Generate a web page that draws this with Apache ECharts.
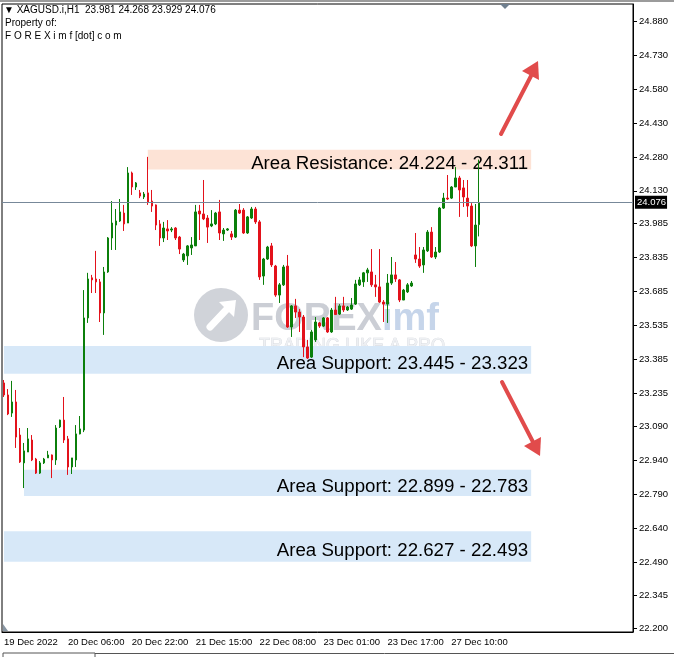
<!DOCTYPE html>
<html><head><meta charset="utf-8">
<script src="https://cdn.jsdelivr.net/npm/echarts@6/dist/echarts.min.js"></script>
<style>html,body{margin:0;padding:0;background:#fff}#c{width:674px;height:657px}</style>
</head><body><div id="c"></div>
<script>
// ---- data (XAGUSD.i, H1) ----
const openP = [23.282,23.229,23.149,23.198,23.052,22.929,22.977,23.030,22.946,22.884,
 22.929,22.951,22.964,22.942,23.088,23.118,23.035,22.911,22.942,23.057,
 23.074,23.569,23.746,23.741,23.728,23.591,23.772,23.922,23.979,23.997,
 24.032,23.988,24.209,24.147,24.121,24.103,24.121,24.085,24.068,23.984,
 23.922,23.962,23.957,23.966,23.926,23.825,23.843,23.878,23.887,24.041,
 24.028,24.010,23.975,23.984,24.037,23.940,23.957,23.940,23.926,24.045,
 24.045,23.944,24.010,24.050,23.993,23.754,23.829,23.887,23.798,23.670,
 23.715,23.798,23.529,23.622,23.595,23.573,23.441,23.396,23.472,23.547,
 23.533,23.569,23.507,23.604,23.586,23.622,23.604,23.608,23.630,23.715,
 23.728,23.768,23.772,23.715,23.706,23.639,23.630,23.723,23.759,23.737,
 23.648,23.684,23.710,23.847,23.829,23.803,23.865,23.948,23.838,23.860,
 24.054,24.098,24.098,24.147,24.187,24.143,24.098,24.063,23.887,23.981];
const highP = [23.295,23.255,23.291,23.251,23.083,23.017,23.083,23.052,22.951,22.937,
 22.951,22.982,22.966,23.096,23.120,23.220,23.048,22.951,23.096,23.136,
 23.692,23.768,23.759,23.865,23.741,23.794,23.926,24.085,24.050,24.094,
 24.068,24.235,24.215,24.169,24.134,24.125,24.280,24.134,24.070,24.001,
 23.993,24.001,23.970,23.970,23.931,23.856,23.891,23.926,24.068,24.068,
 24.178,24.023,24.045,24.037,24.090,23.966,23.966,23.953,24.050,24.072,
 24.054,24.019,24.059,24.059,24.001,23.834,23.887,23.900,23.803,23.723,
 23.803,23.847,23.626,23.653,23.608,23.582,23.472,23.516,23.573,23.551,
 23.573,23.573,23.613,23.662,23.630,23.662,23.622,23.657,23.737,23.750,
 23.772,23.790,23.873,23.759,23.873,23.648,23.763,23.838,23.816,23.741,
 23.697,23.723,23.732,23.944,23.882,23.882,23.957,23.970,23.882,24.059,
 24.121,24.200,24.151,24.235,24.196,24.178,24.178,24.076,24.072,24.268];
const lowP = [23.220,23.140,23.132,22.995,22.929,22.818,22.977,22.937,22.880,22.880,
 22.924,22.951,22.862,22.920,23.083,23.017,22.876,22.880,22.911,23.055,
 23.065,23.547,23.679,23.679,23.551,23.494,23.768,23.869,23.869,23.993,
 23.953,23.988,24.112,24.134,24.098,24.094,24.068,24.037,23.957,23.887,
 23.904,23.913,23.948,23.913,23.851,23.816,23.803,23.847,23.887,23.913,
 24.001,23.900,23.970,23.979,23.913,23.909,23.953,23.913,23.922,24.028,
 23.940,23.940,24.006,23.984,23.737,23.715,23.825,23.794,23.662,23.635,
 23.710,23.525,23.485,23.569,23.507,23.396,23.388,23.392,23.463,23.525,
 23.529,23.503,23.503,23.582,23.582,23.595,23.600,23.604,23.626,23.710,
 23.706,23.728,23.706,23.662,23.635,23.551,23.547,23.715,23.728,23.639,
 23.648,23.679,23.706,23.812,23.790,23.768,23.860,23.834,23.829,23.856,
 24.050,24.090,24.094,24.147,24.015,24.059,24.015,23.882,23.794,23.929];
const closeP = [23.229,23.145,23.198,23.043,22.933,22.982,23.035,22.942,22.884,22.929,
 22.946,22.964,22.942,23.083,23.118,23.030,22.911,22.951,23.057,23.079,
 23.569,23.741,23.737,23.728,23.591,23.772,23.922,23.988,23.997,24.037,
 23.984,24.209,24.147,24.165,24.107,24.116,24.081,24.063,23.979,23.922,
 23.966,23.953,23.962,23.922,23.873,23.851,23.887,23.891,24.037,24.028,
 24.006,23.970,23.984,24.032,23.944,23.957,23.962,23.926,24.045,24.032,
 23.944,24.015,24.050,23.993,23.750,23.829,23.882,23.803,23.670,23.715,
 23.794,23.529,23.622,23.595,23.573,23.441,23.392,23.507,23.551,23.533,
 23.569,23.507,23.604,23.584,23.622,23.604,23.617,23.626,23.719,23.737,
 23.768,23.781,23.715,23.706,23.639,23.630,23.723,23.759,23.741,23.648,
 23.692,23.715,23.723,23.829,23.798,23.869,23.948,23.838,23.860,24.054,
 24.098,24.094,24.147,24.187,24.134,24.103,24.063,23.887,23.979,24.076];

const slotCount = 158; // bars + empty chart shift area
const tickIdx = [0,16,32,48,64,80,96,112];
const tickLabels = ['19 Dec 2022','20 Dec 06:00','20 Dec 22:00','21 Dec 15:00','22 Dec 08:00','23 Dec 01:00','23 Dec 17:00','27 Dec 10:00'];
const priceTicks = [24.880,24.730,24.580,24.430,24.280,24.130,23.985,23.835,23.685,23.535,23.385,23.235,23.090,22.940,22.790,22.640,22.490,22.345,22.200];
const priceMin = 22.1824, priceMax = 24.955;
const lastPrice = 24.076;
const zoneLabels = ['Area Resistance: 24.224 - 24.311','Area Support: 23.445 - 23.323','Area Support: 22.899 - 22.783','Area Support: 22.627 - 22.493'];
const zoneLow  = [24.224, 23.323, 22.783, 22.493];
const zoneHigh = [24.311, 23.445, 22.899, 22.627];
const zoneStart = [36, 0, 5, 0];
const zoneEnd = 132;
const zoneKind = ['res','sup','sup','sup'];

// ---- chart ----
const bull = '#0b7f0b', bear = '#e3121b';
const slots = Array.from({length: slotCount}, (_, i) => 'b' + i);
const candles = openP.map((o, i) => [o, closeP[i], lowP[i], highP[i]]);
const F = 'Liberation Sans, Arial, sans-serif';
const last = openP.length - 1;
const header = '\u25BC XAGUSD.i,H1  ' + [openP[last], highP[last], lowP[last], closeP[last]].map(v => v.toFixed(3)).join(' ');

const chart = echarts.init(document.getElementById('c'), null, {renderer: 'canvas'});
chart.setOption({
  animation: false,
  backgroundColor: '#fff',
  grid: {left: 2, top: 4, width: 631, height: 628, show: true, borderColor: '#000', borderWidth: 1, backgroundColor: 'transparent'},
  xAxis: {
    type: 'category', data: slots, boundaryGap: true,
    axisLine: {lineStyle: {color: '#000', width: 1}},
    axisTick: {alignWithLabel: true, interval: (i) => tickIdx.includes(i), length: 4, lineStyle: {color: '#000'}},
    axisLabel: {interval: (i) => tickIdx.includes(i), formatter: (v, i) => tickLabels[tickIdx.indexOf(i)] || '',
      align: 'left', margin: 5, color: '#000', fontSize: 9.5, fontFamily: F},
    splitLine: {show: false}
  },
  yAxis: {
    type: 'value', position: 'right', min: priceMin, max: priceMax,
    axisLine: {show: true, lineStyle: {color: '#000', width: 1}},
    axisTick: {show: true, length: 4, customValues: priceTicks, lineStyle: {color: '#000'}},
    axisLabel: {customValues: priceTicks, formatter: (v) => v.toFixed(3), margin: 6, color: '#000', fontSize: 9.5, fontFamily: F},
    splitLine: {show: false}
  },
  series: [{
    type: 'candlestick', data: candles, barWidth: 2,
    itemStyle: {color: bull, color0: bear, borderColor: bull, borderColor0: bear, borderWidth: 1},
    markArea: {
      silent: true,
      data: zoneLabels.map((t, k) => [
        {xAxis: zoneStart[k], yAxis: zoneHigh[k],
         itemStyle: {color: zoneKind[k] === 'res' ? '#fde3d6' : '#d7e8f8'},
         label: {show: true, formatter: t, position: 'insideRight', distance: 3, offset: [0, 4],
                 color: '#000', fontSize: 18.7, fontFamily: F}},
        {xAxis: zoneEnd, yAxis: zoneLow[k]}
      ])
    },
    markLine: {
      silent: true, symbol: 'none',
      lineStyle: {color: '#778899', width: 1, type: 'solid'},
      label: {position: 'end', formatter: lastPrice.toFixed(3), backgroundColor: '#000', color: '#fff',
              padding: [2, 1, 1, 2], distance: 2, fontSize: 9.5, fontFamily: F},
      data: [{yAxis: lastPrice}]
    }
  }],
  graphic: [
    // window frame bits
    {type: 'rect', shape: {x: 0, y: 0, width: 674, height: 2}, style: {fill: '#9b9b9b'}, z: 100},
    {type: 'polygon', shape: {points: [[500, 4], [510, 4], [505, 9]]}, style: {fill: '#6f7f8f'}, z: 100},
    {type: 'polygon', shape: {points: [[3, 624], [3, 631], [8, 631]]}, style: {fill: '#8795a2'}, z: 100},
    {type: 'polyline', shape: {points: [[3, 657], [3, 653], [95, 653], [95, 657]]}, style: {stroke: '#555', lineWidth: 1, fill: null}, z: 100},
    {type: 'line', shape: {x1: 95, y1: 653.5, x2: 674, y2: 653.5}, style: {stroke: '#555', lineWidth: 1}, z: 100},
    // watermark
    {type: 'circle', shape: {cx: 221, cy: 315, r: 27}, style: {fill: '#d0d3d9'}, z: -10},
    {type: 'line', shape: {x1: 210, y1: 327, x2: 227, y2: 309}, style: {stroke: '#fff', lineWidth: 7, lineCap: 'round'}, z: -9},
    {type: 'polygon', shape: {points: [[219, 302], [236, 300], [234, 317]]}, style: {fill: '#fff'}, z: -9},
    {type: 'text', x: 251, y: 320, style: {text: 'FOREX', font: 'bold 38px ' + F, fill: '#cbced5', verticalAlign: 'middle', textVerticalAlign: 'middle'}, z: -10},
    {type: 'text', x: 382, y: 320, style: {text: 'imf', font: 'bold 38px ' + F, fill: '#c6d5ea', verticalAlign: 'middle', textVerticalAlign: 'middle'}, z: -10},
    {type: 'text', x: 259, y: 346, style: {text: 'TRADING LIKE A PRO', font: '18px ' + F, fill: '#eef0f3', stroke: '#d3d6dc', lineWidth: 0.7, verticalAlign: 'middle', textVerticalAlign: 'middle'}, z: -10},
    // header
    {type: 'text', x: 4, y: 10, style: {text: header, font: '10px ' + F, fill: '#000', verticalAlign: 'middle', textVerticalAlign: 'middle'}, z: 100},
    {type: 'text', x: 5, y: 23, style: {text: 'Property of:', font: '10px ' + F, fill: '#000', verticalAlign: 'middle', textVerticalAlign: 'middle'}, z: 100},
    {type: 'text', x: 5, y: 36, style: {text: 'F O R E X i m f [dot] c o m', font: '10px ' + F, fill: '#000', verticalAlign: 'middle', textVerticalAlign: 'middle'}, z: 100},
    // arrows
    {type: 'line', shape: {x1: 501, y1: 134, x2: 531, y2: 76}, style: {stroke: '#e14b4b', lineWidth: 4, lineCap: 'round'}, z: 100},
    {type: 'polygon', shape: {points: [[538, 61], [539, 80], [522, 71]]}, style: {fill: '#e14b4b'}, z: 100},
    {type: 'line', shape: {x1: 502, y1: 382, x2: 533, y2: 442}, style: {stroke: '#e14b4b', lineWidth: 4, lineCap: 'round'}, z: 100},
    {type: 'polygon', shape: {points: [[540, 456], [541, 437], [524, 446]]}, style: {fill: '#e14b4b'}, z: 100}
  ]
});
</script>
</body></html>
